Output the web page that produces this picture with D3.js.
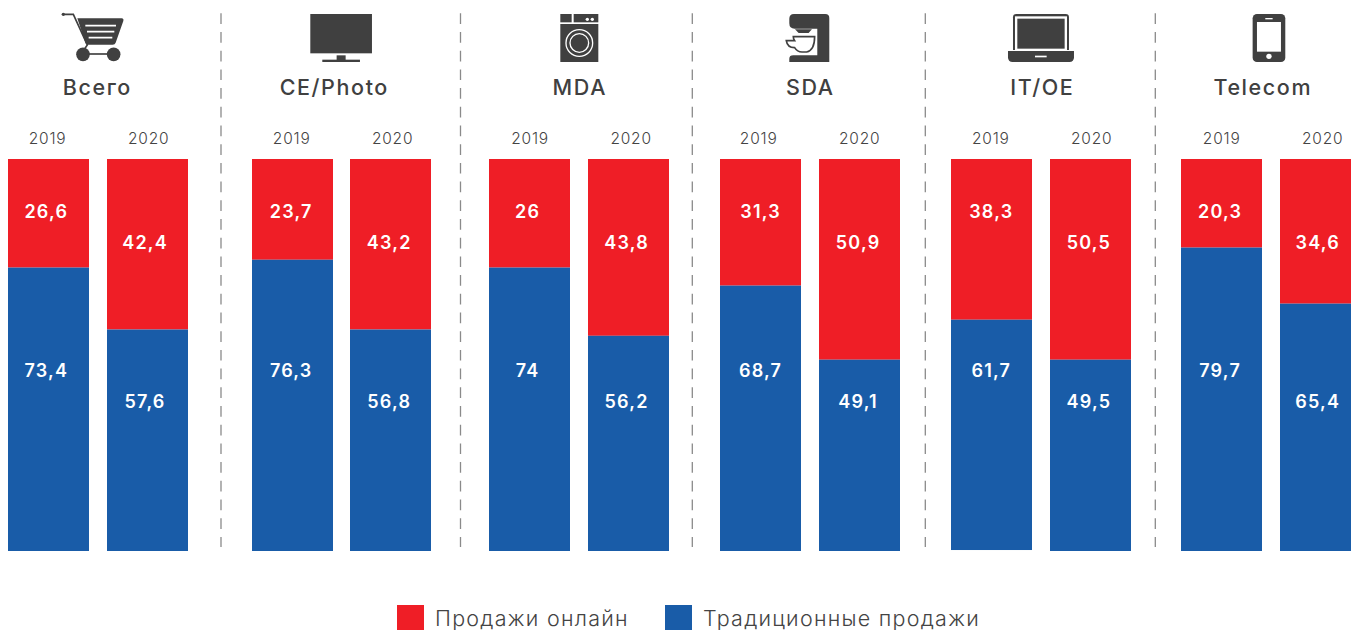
<!DOCTYPE html>
<html>
<head>
<meta charset="utf-8">
<script src="https://cdnjs.cloudflare.com/ajax/libs/d3/7.8.5/d3.min.js"></script>
<style>
html, body { margin: 0; padding: 0; background: #fff; overflow: hidden; }
text { font-family: Inter, "Noto Sans", sans-serif; }
</style>
</head>
<body>
<div id="chart"></div>
<script>
var categories = ["Всего", "CE/Photo", "MDA", "SDA", "IT/OE", "Telecom"];
var years = ["2019", "2020"];
var seriesNames = ["Продажи онлайн", "Традиционные продажи"];

// printed numbers, [2019, 2020]
var onlineValues = [[26.6, 42.4], [23.7, 43.2], [26, 43.8], [31.3, 50.9], [38.3, 50.5], [20.3, 34.6]];
var offlineValues = [[73.4, 57.6], [76.3, 56.8], [74, 56.2], [68.7, 49.1], [61.7, 49.5], [79.7, 65.4]];

// the bars in the picture are not quite to scale with the printed numbers, so these are read off the bars
var onlineDrawn = [[27.7, 43.5], [25.7, 43.5], [27.7, 45.1], [32.3, 51.2], [41, 51.2], [22.6, 36.9]];
var barFloor = [[0, 0], [0, 0], [0, 0], [0, 0], [0.25, 0], [0, 0]];

var width = 1351, height = 630;
var RED = "#ef1e26", BLUE = "#195ca8", DARK = "#404040";
var BAR_W = 81;

var groupLeft = [8, 252, 489, 720, 951, 1181];
var groupStep = [99, 98, 99, 99, 99, 99];
var titleCenter = [96.5, 333.5, 579, 809.5, 1041.5, 1262];
var yearCenter = [[47.2, 148.3], [291.3, 392.2], [529.7, 630.7], [758.3, 859.3], [990.5, 1091.3], [1221.3, 1322.3]];
var valueCenter = [[45.7, 144.5], [290.6, 388.6], [527, 626], [760, 857.5], [990.7, 1088.3], [1219.5, 1317.2]];
var separators = [221, 460.5, 692.3, 925.3, 1155.3];

var svg = d3.select("#chart").append("svg")
    .attr("width", width)
    .attr("height", height)
    .style("display", "block");

var y = d3.scaleLinear().domain([0, 100]).range([551, 159]);
var group = d3.scaleOrdinal().domain(categories).range(groupLeft);

var fmt = function (v) { return String(v).replace(".", ","); };

// dashed separators
svg.selectAll(".sep").data(separators).enter().append("line")
    .attr("class", "sep")
    .attr("x1", function (d) { return d; })
    .attr("x2", function (d) { return d; })
    .attr("y1", 13.3)
    .attr("y2", 547)
    .attr("stroke", "#8a8a8a")
    .attr("stroke-width", 1.3)
    .attr("stroke-dasharray", "10.7 8");

function valueLabel(px, py, value) {
    svg.append("text")
        .attr("x", px + 0.6)
        .attr("y", py)
        .attr("text-anchor", "middle")
        .attr("font-size", 18)
        .attr("font-weight", 600)
        .attr("letter-spacing", 1.2)
        .attr("fill", "#fff")
        .text(fmt(value));
}

categories.forEach(function (cat, i) {
    var g = svg.append("g").attr("transform", "translate(" + group(cat) + ",0)");
    var step = groupStep[i];
    var x = d3.scaleBand().domain(years).range([0, step + BAR_W]).paddingInner((step - BAR_W) / step);

    svg.append("text")
        .attr("x", titleCenter[i] + 0.8)
        .attr("y", 95)
        .attr("text-anchor", "middle")
        .attr("font-size", 21.5)
        .attr("font-weight", 500)
        .attr("letter-spacing", 1.6)
        .attr("fill", DARK)
        .text(cat);

    years.forEach(function (year, j) {
        var bx = x(year), bw = x.bandwidth();
        var split = onlineDrawn[i][j];

        g.append("rect")
            .attr("x", bx)
            .attr("y", y(100))
            .attr("width", bw)
            .attr("height", y(100 - split) - y(100))
            .attr("fill", RED);

        g.append("rect")
            .attr("x", bx)
            .attr("y", y(100 - split))
            .attr("width", bw)
            .attr("height", y(barFloor[i][j]) - y(100 - split))
            .attr("fill", BLUE);

        svg.append("text")
            .attr("x", yearCenter[i][j] + 0.4)
            .attr("y", 144.3)
            .attr("text-anchor", "middle")
            .attr("font-size", 15.5)
            .attr("font-weight", 300)
            .attr("letter-spacing", 0.8)
            .attr("fill", "#444")
            .text(year);

        // value labels sit at a fixed height per year, not at the middle of the segment
        valueLabel(valueCenter[i][j], j == 0 ? 218.2 : 248.9, onlineValues[i][j]);
        valueLabel(valueCenter[i][j], j == 0 ? 376.9 : 407.9, offlineValues[i][j]);
    });
});

// icons, coordinates are in 3x pixels
function icon(dx) {
    return svg.append("g").attr("transform", "translate(" + dx + ",0) scale(0.3333)").attr("fill", DARK);
}

var cart = icon(0);
cart.append("path").attr("d", "M190 43H220L262 135L250 152").attr("fill", "none").attr("stroke", DARK).attr("stroke-width", 5);
cart.append("circle").attr("cx", 190).attr("cy", 43).attr("r", 5);
cart.append("path").attr("d", "M232 55H365Q372 55 370 63L347 128Q345 134 338 134H262Q258 134 256 128Z");
cart.append("path").attr("d", "M256 77H348M261 95H343M266 113H337").attr("stroke", "#fff").attr("stroke-width", 5);
cart.append("circle").attr("cx", 249).attr("cy", 163).attr("r", 20.5);
cart.append("circle").attr("cx", 341).attr("cy", 163).attr("r", 20.5);
cart.append("path").attr("d", "M262 162H325").attr("stroke", DARK).attr("stroke-width", 5);

var tv = icon(0);
tv.append("rect").attr("x", 931).attr("y", 42).attr("width", 185).attr("height", 118);
tv.append("rect").attr("x", 1010).attr("y", 166).attr("width", 27).attr("height", 16);
tv.append("rect").attr("x", 967).attr("y", 179).attr("width", 113).attr("height", 7);

var washer = icon(450);
washer.append("rect").attr("x", 331).attr("y", 42).attr("width", 34).attr("height", 25);
washer.append("rect").attr("x", 371).attr("y", 42).attr("width", 74).attr("height", 25);
washer.append("rect").attr("x", 331).attr("y", 72).attr("width", 114).attr("height", 114);
washer.selectAll("circle.dot").data([412, 427]).enter().append("circle")
    .attr("class", "dot")
    .attr("cx", function (d) { return d; })
    .attr("cy", 58)
    .attr("r", 5)
    .attr("fill", "#fff");
washer.selectAll("circle.ring").data([40, 28]).enter().append("circle")
    .attr("class", "ring")
    .attr("cx", 388)
    .attr("cy", 129)
    .attr("r", function (d) { return d; })
    .attr("fill", "none")
    .attr("stroke", "#fff")
    .attr("stroke-width", 4);

var mixer = icon(450);
mixer.append("path").attr("d", "M1032 42H1126Q1138 42 1138 54V186H1018V176Q1018 166 1030 166H1102V86H1034Q1018 86 1018 70V56Q1018 42 1032 42Z");
mixer.append("path").attr("d", "M1035 88H1086L1076 99H1046Z");
mixer.append("path").attr("d", "M1030 110H1094Q1094 150 1070 156H1056Q1042 156 1034 143Q1012 143 1009 122H1034Q1030 116 1030 110Z")
    .attr("fill", "#fff")
    .attr("stroke", DARK)
    .attr("stroke-width", 5);

var laptop = icon(900);
laptop.append("path").attr("d", "M349 42H497Q507 42 507 52V150H339V52Q339 42 349 42Z");
laptop.append("rect").attr("x", 345).attr("y", 49).attr("width", 156).attr("height", 104).attr("fill", "#fff");
laptop.append("rect").attr("x", 352).attr("y", 56).attr("width", 142).attr("height", 90);
laptop.append("path").attr("d", "M324 153H522V172Q522 186 508 186H338Q324 186 324 172Z");
laptop.append("rect").attr("x", 405).attr("y", 167).attr("width", 35).attr("height", 5).attr("fill", "#fff");

var phone = icon(900);
phone.append("rect").attr("x", 1058).attr("y", 42).attr("width", 98).attr("height", 144).attr("rx", 13);
phone.append("rect").attr("x", 1071).attr("y", 66).attr("width", 72).attr("height", 89).attr("fill", "#fff");
phone.append("rect").attr("x", 1096).attr("y", 54).attr("width", 22).attr("height", 4).attr("fill", "#fff");
phone.append("circle").attr("cx", 1107).attr("cy", 169).attr("r", 8).attr("fill", "#fff");

// legend
var legendColor = d3.scaleOrdinal().domain(seriesNames).range([RED, BLUE]);
var legendX = d3.scaleOrdinal().domain(seriesNames).range([397, 665]);

var legend = svg.selectAll(".legend").data(seriesNames).enter().append("g")
    .attr("class", "legend")
    .attr("transform", function (d) { return "translate(" + legendX(d) + ",605)"; });

legend.append("rect")
    .attr("width", 27)
    .attr("height", 25)
    .attr("fill", function (d) { return legendColor(d); });

legend.append("text")
    .attr("x", 38)
    .attr("y", 21)
    .attr("font-size", 21.5)
    .attr("font-weight", 300)
    .attr("letter-spacing", 1.25)
    .attr("fill", "#444")
    .text(function (d) { return d; });
</script>
</body>
</html>
